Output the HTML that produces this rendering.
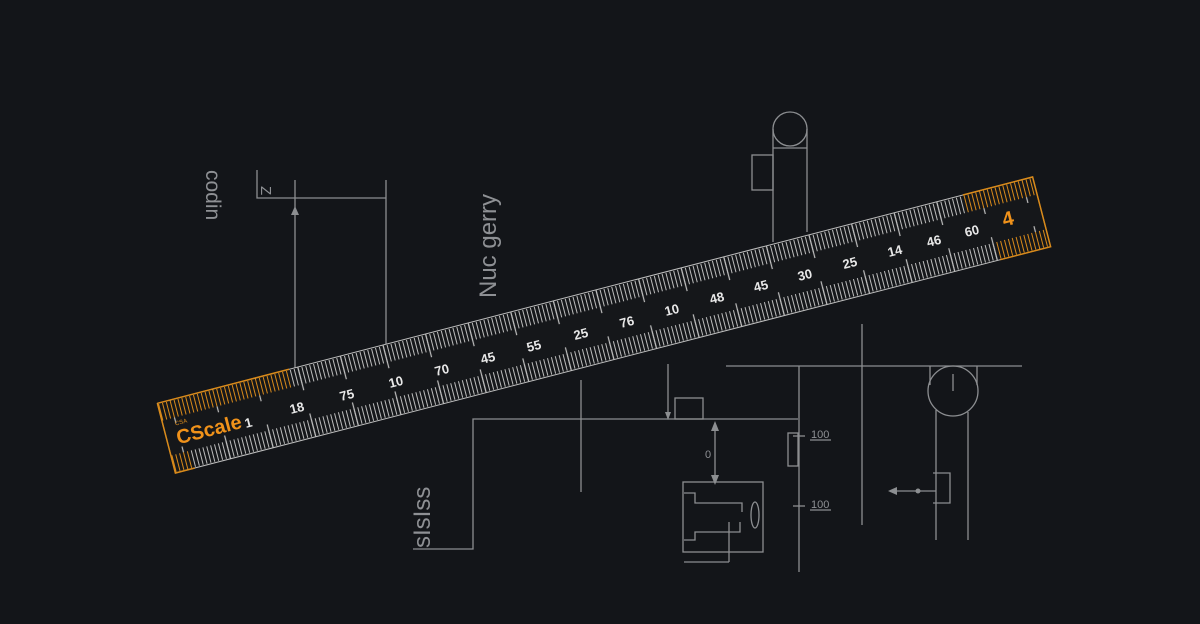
<!DOCTYPE html>
<html><head><meta charset="utf-8"><style>
html,body{margin:0;padding:0;background:#131519;}
svg{display:block;}
text{font-family:"Liberation Sans",sans-serif;}
</style></head><body>
<svg width="1200" height="624" viewBox="0 0 1200 624" xmlns="http://www.w3.org/2000/svg">
<defs>
<pattern id="tk" width="4" height="40" patternUnits="userSpaceOnUse">
<line x1="1" y1="0" x2="1" y2="40" stroke="#bdbdbd" stroke-width="1"/>
</pattern>
<pattern id="tko" width="4" height="40" patternUnits="userSpaceOnUse">
<line x1="1" y1="0" x2="1" y2="40" stroke="#d98a1a" stroke-width="1"/>
</pattern>
<pattern id="maj" x="0" y="-36" width="44" height="72" patternUnits="userSpaceOnUse">
<line x1="1" y1="0" x2="1" y2="24" stroke="#bdbdbd" stroke-width="1.2"/>
<line x1="1" y1="48" x2="1" y2="72" stroke="#bdbdbd" stroke-width="1.2"/>
</pattern>
</defs>
<rect width="1200" height="624" fill="#131519"/>
<g stroke="#8c8e91" stroke-width="1.3" fill="none">
<polyline points="257,170 257,198 386,198"/>
<line x1="386" y1="180" x2="386" y2="345"/>
<line x1="295" y1="180" x2="295" y2="372"/>
<circle cx="790" cy="129" r="17"/>
<line x1="773" y1="129" x2="773" y2="242"/>
<line x1="807" y1="129" x2="807" y2="232"/>
<line x1="773" y1="148" x2="807" y2="148"/>
<rect x="752" y="155" width="21" height="35"/>
<polyline points="413,549 473,549 473,419 798,419"/>
<line x1="581" y1="380" x2="581" y2="492"/>
<line x1="668" y1="364" x2="668" y2="418"/>
<rect x="675" y="398" width="28" height="21"/>
<line x1="715" y1="425" x2="715" y2="482"/>
<rect x="683" y="482" width="80" height="70"/>
<polyline points="684,493 695,493 695,503 742,503 742,512"/>
<polyline points="684,540 695,540 695,532 740,532 740,522"/>
<line x1="729" y1="522" x2="729" y2="562"/>
<polyline points="684,562 729,562"/>
<ellipse cx="755" cy="515" rx="4" ry="13"/>
<line x1="799" y1="366" x2="799" y2="572"/>
<rect x="788" y="433" width="10" height="33"/>
<line x1="793" y1="436" x2="805" y2="436"/>
<line x1="793" y1="506" x2="805" y2="506"/>
<line x1="810" y1="440" x2="831" y2="440"/>
<line x1="810" y1="510" x2="831" y2="510"/>
<line x1="726" y1="366" x2="1022" y2="366"/>
<line x1="862" y1="324" x2="862" y2="525"/>
<circle cx="953" cy="391" r="25"/>
<line x1="953" y1="374" x2="953" y2="391"/>
<polyline points="930,366 930,385"/><polyline points="977,366 977,385"/>
<line x1="936" y1="410" x2="936" y2="540"/>
<line x1="968" y1="412" x2="968" y2="540"/>
<polyline points="933,473 950,473 950,503 933,503"/>
<line x1="892" y1="491" x2="936" y2="491"/>
</g>
<g fill="#8c8e91">
<polygon points="295,206 291,215 299,215"/>
<polygon points="715,421 711,431 719,431"/>
<polygon points="715,485 711,475 719,475"/>
<polygon points="668,420 665,412 671,412"/>
<polygon points="888,491 897,487 897,495"/>
<circle cx="918" cy="491" r="2.5"/>
</g>
<g fill="#8e9094">
<text x="268" y="193" font-size="15" transform="rotate(90 268 186)">Z</text>
<text transform="translate(206,170) rotate(90)" font-size="21">codin</text>
<text transform="translate(496,298) rotate(-90)" font-size="24">Nuc gerry</text>
<text transform="translate(430,548) rotate(-90)" font-size="24">sIsIss</text>
<text x="705" y="458" font-size="11">0</text>
<text x="811" y="438" font-size="11">100</text>
<text x="811" y="508" font-size="11">100</text>
</g>
<g transform="translate(604,325) rotate(-14.5)">
<rect x="-452" y="-36" width="904" height="72" fill="#15171a" stroke="#bfbfbf" stroke-width="1"/>
<rect x="-452" y="-35" width="904" height="17" fill="url(#tk)"/>
<rect x="-452" y="18" width="904" height="17" fill="url(#tk)"/>
<rect x="-452" y="-36" width="904" height="72" fill="url(#maj)"/>
<rect x="-452" y="-35" width="136" height="17" fill="#15171a"/>
<rect x="-452" y="-35" width="136" height="17" fill="url(#tko)"/>
<rect x="-452" y="18" width="20" height="17" fill="#15171a"/>
<rect x="-452" y="18" width="20" height="17" fill="url(#tko)"/>
<rect x="380" y="-35" width="72" height="17" fill="#15171a"/>
<rect x="380" y="-35" width="72" height="17" fill="url(#tko)"/>
<rect x="400" y="18" width="52" height="17" fill="#15171a"/>
<rect x="400" y="18" width="52" height="17" fill="url(#tko)"/>
<path d="M-452,-36 H-316 M-452,-36 V36 H-432" stroke="#d98a1a" stroke-width="1.5" fill="none"/>
<path d="M380,-36 H452 V36 H400" stroke="#d98a1a" stroke-width="1.5" fill="none"/>
<text x="-440" y="-10" font-size="6" fill="#d98a1a">CSA</text>
<text x="-442" y="9" font-size="20" font-weight="bold" fill="#f0921a">CScale</text>
<text x="412" y="5" font-size="20" font-weight="bold" fill="#f0921a">4</text>
</g>
<g fill="#e8e8e8" font-size="13" font-weight="bold">
<text transform="translate(246,428) rotate(-14.5)">1</text>
<text transform="translate(291,414) rotate(-14.5)">18</text>
<text transform="translate(341,401) rotate(-14.5)">75</text>
<text transform="translate(390,388) rotate(-14.5)">10</text>
<text transform="translate(436,376) rotate(-14.5)">70</text>
<text transform="translate(482,364) rotate(-14.5)">45</text>
<text transform="translate(528,352) rotate(-14.5)">55</text>
<text transform="translate(575,340) rotate(-14.5)">25</text>
<text transform="translate(621,328) rotate(-14.5)">76</text>
<text transform="translate(666,316) rotate(-14.5)">10</text>
<text transform="translate(711,304) rotate(-14.5)">48</text>
<text transform="translate(755,292) rotate(-14.5)">45</text>
<text transform="translate(799,281) rotate(-14.5)">30</text>
<text transform="translate(844,269) rotate(-14.5)">25</text>
<text transform="translate(889,257) rotate(-14.5)">14</text>
<text transform="translate(928,247) rotate(-14.5)">46</text>
<text transform="translate(966,237) rotate(-14.5)">60</text>
</g>
</svg>
</body></html>
